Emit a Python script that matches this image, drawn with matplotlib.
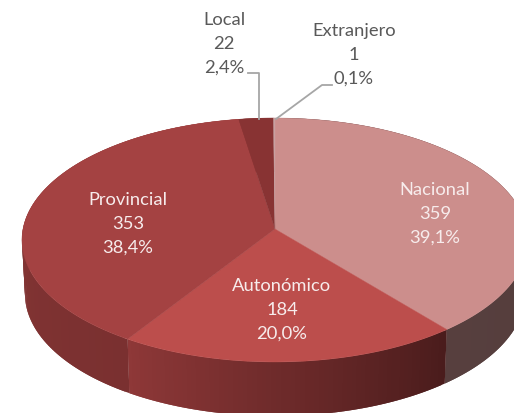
import numpy as np
import matplotlib
matplotlib.use('Agg')
import matplotlib.pyplot as plt
from matplotlib.colors import to_rgb

# Data
categories = ['Nacional', 'Autonómico', 'Provincial', 'Local', 'Extranjero']
values = [359, 184, 353, 22, 1]
percents = ['39,1%', '20,0%', '38,4%', '2,4%', '0,1%']

# Colours of the top faces and of the side wall (start and end of the gradient)
top_colors = ['#CC8E8C', '#BC4E4C', '#A44242', '#883333', '#C8A0A0']
wall_start = ['#4F3A3A', '#4A1C1C', '#7A3030', '#7A3030', '#7A3030']
wall_end = ['#573F3E', '#8F3838', '#8E3A38', '#8E3A38', '#8E3A38']

# Label centres in pixels
label_pos = [(435, 214), (282, 310), (128, 224), (224, 44), (354, 55)]
label_colors = ['#F7ECEC', '#F7ECEC', '#F7ECEC', '#595959', '#595959']

# Pie geometry, a tilted disc seen in perspective
APEX_X, APEX_Y = 275, 229
RX, RY = 252, 121
PERSP = 0.09
DEPTH = 54
RX_BOTTOM = 249


def project(theta, rx=RX, dy=0):
    # theta in degrees, counted like a normal pie (90 = top of the chart)
    t = np.radians(theta)
    px = np.cos(t)
    py = np.sin(t)
    d = 1 + PERSP * py
    return APEX_X + rx * px / d, APEX_Y + dy - RY * py / d


plt.rcParams['font.family'] = ['Lato', 'DejaVu Sans']

fig = plt.figure(figsize=(5.14, 4.13), dpi=100)
ax = fig.add_axes([0, 0, 1, 1])
ax.set_xlim(0, 514)
ax.set_ylim(413, 0)
ax.axis('off')

# wedge start/end angles, clockwise from the top
total = sum(values)
edges = 90 - 360 * np.cumsum([0] + values) / total

# Side wall, drawn as thin strips so the shading can change along it.
# Each strip runs on under the next one, so no seams show.
for i in range(len(values)):
    n = max(int(abs(edges[i] - edges[i + 1])), 2)
    ts = np.linspace(edges[i], edges[i + 1], n + 1)
    step = ts[1] - ts[0]
    c0 = np.array(to_rgb(wall_start[i]))
    c1 = np.array(to_rgb(wall_end[i]))
    for j in range(n):
        f = j / n
        col = c0 + (c1 - c0) * f
        end = ts[j + 1] + step if j < n - 1 else ts[j + 1]
        seg = np.linspace(ts[j], end, 5)
        x1, y1 = project(seg)
        x2, y2 = project(seg[::-1], rx=RX_BOTTOM, dy=DEPTH)
        ax.fill(np.r_[x1, x2], np.r_[y1, y2], facecolor=col, edgecolor='none', lw=0, zorder=2)

# Top faces
for i in range(len(values)):
    ts = np.linspace(edges[i], edges[i + 1], 200)
    x, y = project(ts)
    ax.fill(np.r_[APEX_X, x], np.r_[APEX_Y, y], color=top_colors[i], lw=0.3, zorder=3)

# Leader lines of the two small slices
ax.plot([248, 259, 259], [73, 73, 119], color='#A6A6A6', lw=1.3, zorder=4)
ax.plot([332, 322, 276], [85, 85, 119], color='#A6A6A6', lw=1.3, zorder=4)

# Labels
for i, cat in enumerate(categories):
    ax.text(label_pos[i][0], label_pos[i][1], f'{cat}\n{values[i]}\n{percents[i]}',
            ha='center', va='center', fontsize=13.2, linespacing=1.58,
            color=label_colors[i], zorder=5)

fig.savefig('out.png', dpi=100)
